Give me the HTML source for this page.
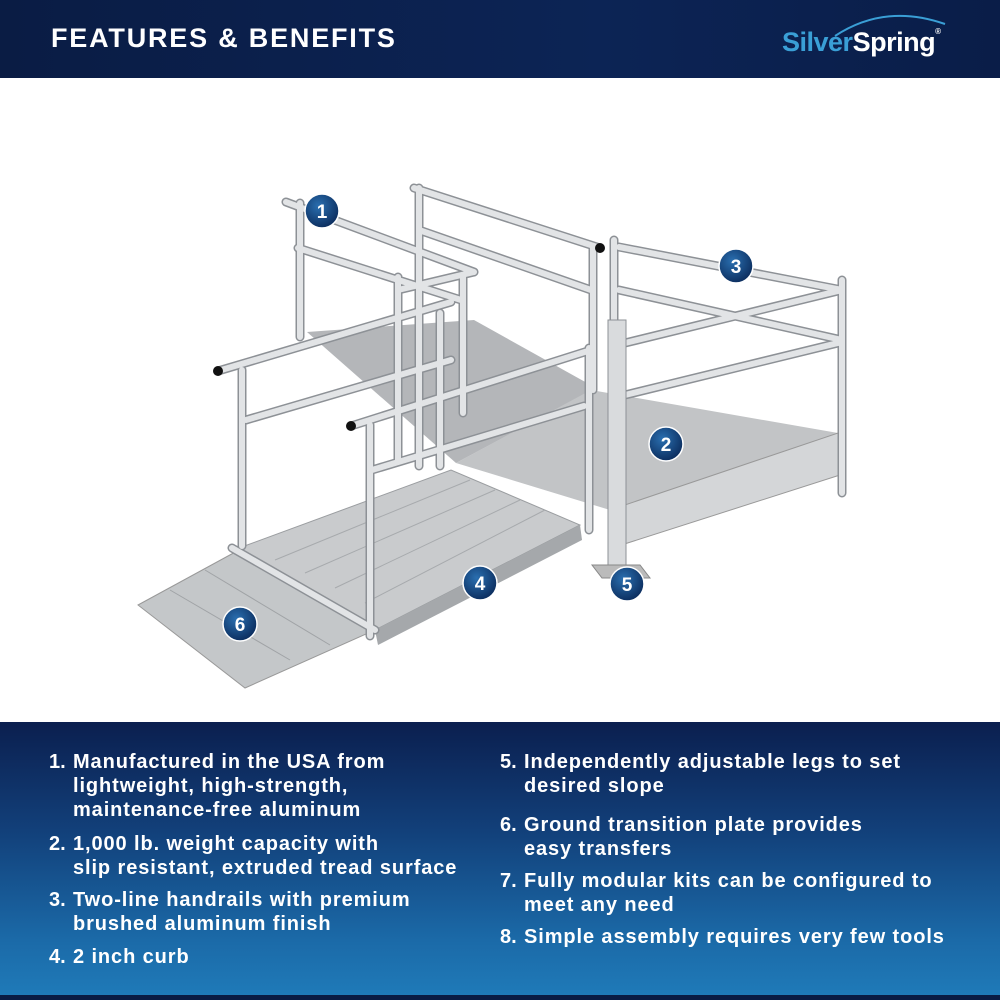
<!DOCTYPE html>
<html><head><style>
body{margin:0;width:1000px;height:1000px;position:relative;background:#fff;font-family:"Liberation Sans",sans-serif;overflow:hidden}
.hdr{position:absolute;left:0;top:0;width:1000px;height:78px;background:linear-gradient(90deg,#0a1c44,#0c2455 60%,#0a1d48)}
.hdr h1{position:absolute;left:51px;top:23px;margin:0;color:#fff;font-size:27px;font-weight:bold;letter-spacing:1.8px}
.logo{position:absolute;left:782px;top:27px;font-size:27px;font-weight:bold;letter-spacing:-0.5px}
.bot{position:absolute;left:0;top:722px;width:1000px;height:278px;background:linear-gradient(180deg,#0b1f4f 0%,#12407a 40%,#1b6aa8 80%,#1f7ab8 100%);border-bottom:5px solid #0a1c44;box-sizing:border-box}
.item{position:absolute;color:#fff;font-size:20px;font-weight:bold;line-height:24px;letter-spacing:0.9px;white-space:nowrap}
.item .n{position:absolute;left:-24px;letter-spacing:0}
</style></head><body>
<div class="hdr"><h1>FEATURES &amp; BENEFITS</h1>
<div class="logo"><span style="color:#3a9fd6">Silver</span><span style="color:#fff">Spring</span><span style="color:#fff;font-size:8px;vertical-align:top">®</span></div>
<svg style="position:absolute;left:830px;top:8px" width="120" height="30"><path d="M5 28 Q55 -5 115 16" stroke="#3a9fd6" stroke-width="2" fill="none"/></svg>
</div>

<svg style="position:absolute;left:0;top:78px" width="1000" height="644" viewBox="0 78 1000 644">
<defs>
<radialGradient id="cg" cx="40%" cy="35%" r="70%"><stop offset="0" stop-color="#2a6fb0"/><stop offset="1" stop-color="#0a2a5a"/></radialGradient>
</defs>
<polygon points="307,332 474,320 596,388 456,463" fill="#b4b6b9"/>
<polygon points="456,463 591,390 838,433 610,510" fill="#c2c4c6"/>
<polygon points="610,510 838,433 840,475 612,548" fill="#d4d6d8" stroke="#999" stroke-width="1"/>
<polygon points="239,548 451,470 580,525 375,630" fill="#c9cbcd" stroke="#9a9da0" stroke-width="1"/>
<g stroke="#a7aaad" stroke-width="1"><line x1="275" y1="560" x2="470" y2="480"/><line x1="305" y1="573" x2="495" y2="490"/><line x1="335" y1="588" x2="520" y2="500"/><line x1="365" y1="603" x2="545" y2="510"/></g>
<polygon points="375,630 580,525 582,540 378,645" fill="#a5a8ab"/>
<polygon points="138,605 239,550 375,630 245,688" fill="#c4c7c9" stroke="#999" stroke-width="1"/>
<line x1="170" y1="590" x2="290" y2="660" stroke="#a0a3a6"/>
<line x1="205" y1="570" x2="330" y2="645" stroke="#a0a3a6"/>
<g stroke="#8d9196" stroke-width="9" stroke-linecap="round" fill="none">
<path d="M300 203V337M286 202L474 272M298 248L461 300M419 188V466M414 188L600 248M419 230L591 290M593 248V390M398 277V460M463 277V413M440 313V466M398 290L474 272M242 370V546M218 371L451 302M246 420L451 360M370 425V636M351 426L591 350M372 470L584 406M589 348V530M614 240V546M842 280V493M619 247L842 290M619 290L842 340M625 343L842 290M625 395L842 342M232 548L375 630"/>
</g>
<g stroke="#e2e4e6" stroke-width="6" stroke-linecap="round" fill="none">
<path d="M300 203V337M286 202L474 272M298 248L461 300M419 188V466M414 188L600 248M419 230L591 290M593 248V390M398 277V460M463 277V413M440 313V466M398 290L474 272M242 370V546M218 371L451 302M246 420L451 360M370 425V636M351 426L591 350M372 470L584 406M589 348V530M614 240V546M842 280V493M619 247L842 290M619 290L842 340M625 343L842 290M625 395L842 342M232 548L375 630"/>
</g>
<rect x="608" y="320" width="18" height="246" fill="#d9dbdd" stroke="#8d9196"/>
<polygon points="592,565 640,565 650,578 602,578" fill="#bbb" stroke="#888"/>
<circle cx="218" cy="371" r="5" fill="#111"/><circle cx="351" cy="426" r="5" fill="#111"/><circle cx="600" cy="248" r="5" fill="#111"/>
<g font-family="Liberation Sans" font-weight="bold" font-size="19" fill="#fff" text-anchor="middle">
<g stroke="#fff" stroke-width="1.5" fill="url(#cg)">
<circle cx="322" cy="211" r="17"/><circle cx="666" cy="444" r="17"/><circle cx="736" cy="266" r="17"/><circle cx="480" cy="583" r="17"/><circle cx="627" cy="584" r="17"/><circle cx="240" cy="624" r="17"/></g>
<text x="322" y="218">1</text><text x="666" y="451">2</text><text x="736" y="273">3</text><text x="480" y="590">4</text><text x="627" y="591">5</text><text x="240" y="631">6</text>
</g>
</svg>

<div class="bot"></div>
<div class="item" style="left:73px;top:750px"><span class="n">1.</span>Manufactured in the USA from<br>lightweight, high-strength,<br>maintenance-free aluminum</div>
<div class="item" style="left:73px;top:832px"><span class="n">2.</span>1,000 lb. weight capacity with<br>slip resistant, extruded tread surface</div>
<div class="item" style="left:73px;top:888px"><span class="n">3.</span>Two-line handrails with premium<br>brushed aluminum finish</div>
<div class="item" style="left:73px;top:945px"><span class="n">4.</span>2 inch curb</div>
<div class="item" style="left:524px;top:750px"><span class="n">5.</span>Independently adjustable legs to set<br>desired slope</div>
<div class="item" style="left:524px;top:813px"><span class="n">6.</span>Ground transition plate provides<br>easy transfers</div>
<div class="item" style="left:524px;top:869px"><span class="n">7.</span>Fully modular kits can be configured to<br>meet any need</div>
<div class="item" style="left:524px;top:925px"><span class="n">8.</span>Simple assembly requires very few tools</div>
</body></html>
